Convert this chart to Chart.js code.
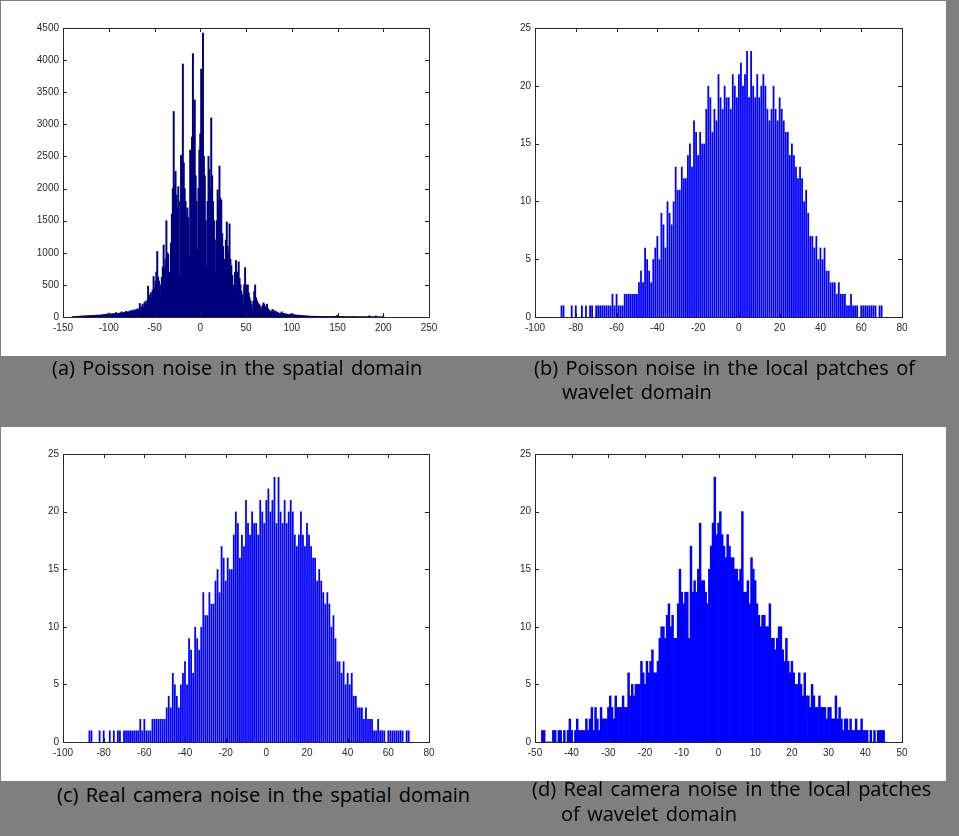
<!DOCTYPE html>
<html>
<head>
<meta charset="utf-8">
<script src="https://cdn.jsdelivr.net/npm/chart.js@4.4.1/dist/chart.umd.min.js"></script>
<style>
  html, body { margin: 0; padding: 0; }
  body { width: 959px; height: 836px; background: #7f7f7f; position: relative; overflow: hidden; }
  .panel { position: absolute; background: #fff; }
  canvas { position: absolute; }
  .cap { position: absolute; color: #000; font-family: 'Open Sans', sans-serif; font-size: 20px; line-height: 24px; white-space: nowrap; word-spacing: 2.2px; }
</style>
</head>
<body>
<div class="panel" style="left:1px;top:1px;width:945px;height:355px"></div>
<div class="panel" style="left:1px;top:427px;width:945px;height:354px"></div>

<canvas id="chartA" width="478" height="355" style="left:1px;top:1px"></canvas>
<canvas id="chartB" width="467" height="355" style="left:479px;top:1px"></canvas>
<canvas id="chartC" width="478" height="354" style="left:1px;top:427px"></canvas>
<canvas id="chartD" width="467" height="354" style="left:479px;top:427px"></canvas>

<div class="cap" style="left:52px;top:356px">(a) Poisson noise in the spatial domain</div>
<div class="cap" style="left:534px;top:356px">(b) Poisson noise in the local patches of</div>
<div class="cap" style="left:562px;top:380px">wavelet domain</div>
<div class="cap" style="left:57px;top:783px">(c) Real camera noise in the spatial domain</div>
<div class="cap" style="left:532px;top:777px">(d) Real camera noise in the local patches</div>
<div class="cap" style="left:561px;top:802px">of wavelet domain</div>

<script>
// (a) Poisson noise, spatial domain: one bin per integer, from -140 to 200
const binStartA = -140;
const binWidthA = 1;
const countsA = [
  0, 5, 0, 8, 10, 0, 12, 8, 10, 15,
  12, 10, 18, 15, 12, 20, 18, 15, 22, 20,
  18, 25, 22, 20, 28, 25, 22, 30, 28, 25,
  32, 28, 30, 35, 30, 38, 35, 40, 45, 38,
  60, 40, 45, 50, 42, 55, 48, 52, 70, 50,
  55, 60, 52, 65, 80, 60, 70, 65, 75, 90,
  70, 80, 75, 95, 85, 100, 90, 110, 100, 95,
  120, 100, 130, 115, 210, 140, 160, 200, 150, 220,
  240, 200, 260, 480, 300, 340, 380, 300, 420, 630,
  450, 560, 700, 1020, 620, 560, 500, 300, 620, 780,
  1120, 760, 900, 1500, 1000, 980, 700, 560, 1150, 1600,
  2000, 3200, 2050, 2270, 1900, 1700, 2030, 650, 1800, 2520,
  2200, 3940, 2400, 2000, 1800, 1600, 1700, 1550, 950, 2600,
  2400, 2800, 4100, 3000, 3380, 2200, 1800, 1050, 2000, 2600,
  2850, 3860, 2900, 4420, 2500, 2200, 1500, 800, 1800, 2500,
  2300, 2000, 3100, 2200, 1800, 1500, 1200, 700, 1500, 1980,
  1800, 2350, 1850, 1820, 1300, 1100, 900, 500, 1200, 1480,
  1100, 1000, 1450, 900, 800, 650, 500, 380, 700, 880,
  650, 700, 860, 600, 500, 400, 350, 200, 500, 770,
  500, 420, 500, 380, 300, 250, 200, 120, 250, 400,
  500, 300, 250, 220, 200, 180, 150, 110, 180, 220,
  200, 160, 150, 200, 130, 110, 100, 70, 90, 120,
  80, 100, 70, 85, 60, 70, 55, 50, 60, 80,
  55, 60, 45, 50, 40, 45, 38, 35, 40, 45,
  50, 35, 38, 30, 32, 28, 30, 25, 28, 22,
  25, 20, 22, 18, 20, 15, 18, 15, 12, 15,
  12, 10, 14, 10, 12, 8, 10, 12, 8, 10,
  8, 10, 6, 8, 10, 6, 8, 5, 8, 6,
  8, 5, 6, 8, 5, 6, 10, 5, 8, 20,
  25, 6, 5, 8, 4, 6, 5, 4, 6, 5,
  4, 5, 3, 6, 4, 3, 5, 4, 3, 8,
  4, 3, 5, 2, 4, 3, 2, 4, 3, 5,
  3, 2, 4, 3, 5, 20, 3, 2, 4, 2,
  3, 2, 15, 2, 3, 1, 2, 0, 0, 1,
  20
];
const xTicksA = [-150, -100, -50, 0, 50, 100, 150, 200, 250];
const yTicksA = [0, 500, 1000, 1500, 2000, 2500, 3000, 3500, 4000, 4500];

// (b) Poisson noise, local wavelet patches: integer bins from -87 to 70
const binStartB = -87;
const binWidthB = 1;
const countsB = [
  1, 1, 0, 0, 0, 1, 0, 1, 0, 0,
  1, 0, 1, 0, 1, 1, 0, 1, 1, 1,
  1, 1, 1, 1, 1, 2, 1, 2, 1, 1,
  1, 2, 2, 2, 2, 2, 2, 2, 3, 4,
  3, 6, 5, 4, 3, 5, 6, 7, 5, 9,
  8, 6, 10, 9, 8, 10, 13, 11, 11, 13,
  12, 12, 14, 15, 13, 17, 16, 14, 16, 15,
  15, 18, 20, 19, 16, 18, 17, 21, 19, 18,
  20, 19, 19, 18, 21, 20, 19, 21, 22, 20,
  21, 23, 19, 23, 20, 19, 21, 19, 20, 21,
  20, 18, 17, 18, 20, 18, 17, 19, 18, 17,
  16, 16, 14, 15, 14, 13, 12, 13, 12, 10,
  11, 9, 7, 7, 6, 7, 5, 6, 5, 6,
  4, 4, 3, 3, 3, 2, 3, 2, 2, 2,
  1, 1, 2, 1, 1, 1, 0, 1, 1, 1,
  1, 1, 1, 1, 1, 0, 1, 1
];
const xTicksB = [-100, -80, -60, -40, -20, 0, 20, 40, 60, 80];
const yTicks25 = [0, 5, 10, 15, 20, 25];

// (c) real camera noise, spatial domain: the reference shows the same histogram as (b)
const binStartC = -87;
const binWidthC = 1;
const countsC = countsB;
const xTicksC = [-100, -80, -60, -40, -20, 0, 20, 40, 60, 80];

// (d) real camera noise, local wavelet patches: half-unit bins from -48 to 45.5
const binStartD = -48;
const binWidthD = 0.5;
const countsD = [
  1, 1, 0, 0, 0, 0, 1, 1, 0, 1,
  1, 0, 1, 0, 1, 2, 1, 0, 1, 2,
  1, 1, 1, 1, 2, 1, 2, 3, 1, 3,
  2, 1, 3, 2, 2, 2, 3, 4, 3, 2,
  4, 3, 3, 3, 4, 3, 3, 6, 4, 5,
  4, 5, 5, 5, 7, 6, 5, 7, 6, 7,
  8, 6, 6, 7, 9, 10, 10, 9, 11, 12,
  10, 11, 9, 9, 12, 15, 13, 12, 13, 13,
  9, 17, 13, 14, 13, 15, 19, 14, 14, 13,
  12, 15, 17, 19, 23, 18, 19, 20, 18, 17,
  16, 18, 17, 16, 16, 15, 15, 14, 15, 20,
  13, 13, 14, 12, 16, 15, 14, 12, 11, 10,
  11, 11, 10, 10, 12, 9, 9, 8, 9, 10,
  10, 8, 7, 9, 7, 6, 7, 6, 5, 5,
  6, 5, 4, 6, 4, 4, 3, 5, 4, 3,
  3, 4, 3, 3, 3, 2, 3, 3, 2, 2,
  4, 2, 3, 2, 1, 2, 2, 1, 2, 1,
  1, 2, 1, 1, 2, 1, 1, 1, 0, 1,
  0, 1, 0, 1, 1, 1, 1, 0
];
const xTicksD = [-50, -40, -30, -20, -10, 0, 10, 20, 30, 40, 50];

const tickFont = { family: 'Liberation Sans', size: 10 };
const tickColor = '#2a2a2a';

// MATLAB style axes: closed box with short ticks pointing inwards on all sides
const matlabBox = {
  id: 'matlabBox',
  afterDraw(chart) {
    const { ctx, chartArea: a, scales: { x, y } } = chart;
    ctx.save();
    ctx.strokeStyle = '#262626';
    ctx.lineWidth = 1;
    ctx.strokeRect(a.left + 0.5, a.top + 0.5, a.right - a.left, a.bottom - a.top);
    ctx.beginPath();
    x.ticks.forEach(t => {
      const px = Math.round(x.getPixelForValue(t.value)) + 0.5;
      ctx.moveTo(px, a.bottom); ctx.lineTo(px, a.bottom - 4);
      ctx.moveTo(px, a.top); ctx.lineTo(px, a.top + 4);
    });
    y.ticks.forEach(t => {
      const py = Math.round(y.getPixelForValue(t.value)) + 0.5;
      ctx.moveTo(a.left, py); ctx.lineTo(a.left + 4, py);
      ctx.moveTo(a.right, py); ctx.lineTo(a.right - 4, py);
    });
    ctx.stroke();
    ctx.restore();
  }
};

function histChart(id, start, width, counts, color, xTicks, yTicks, box, bar) {
  const points = counts.map((c, i) => ({ x: start + i * width, y: c }));
  new Chart(document.getElementById(id), {
    type: 'bar',
    data: {
      datasets: [Object.assign({
        data: points,
        backgroundColor: color,
        borderWidth: 0,
        categoryPercentage: 1
      }, bar)]
    },
    options: {
      responsive: false,
      animation: false,
      layout: { padding: { left: 0, top: box.top, right: box.right, bottom: 0 } },
      plugins: { legend: { display: false }, tooltip: { enabled: false } },
      scales: {
        x: {
          type: 'linear',
          offset: false,
          min: xTicks[0],
          max: xTicks[xTicks.length - 1],
          afterBuildTicks: s => { s.ticks = xTicks.map(v => ({ value: v })); },
          afterFit: s => { s.height = box.xh; },
          grid: { display: false, drawTicks: false },
          border: { display: false },
          ticks: { font: tickFont, color: tickColor, padding: 5, maxRotation: 0, autoSkip: false,
                   callback: v => String(v) }
        },
        y: {
          min: yTicks[0],
          max: yTicks[yTicks.length - 1],
          afterBuildTicks: s => { s.ticks = yTicks.map(v => ({ value: v })); },
          afterFit: s => { s.width = box.yw; },
          grid: { display: false, drawTicks: false },
          border: { display: false },
          ticks: { font: tickFont, color: tickColor, padding: 4, callback: v => String(v) }
        }
      }
    },
    plugins: [matlabBox]
  });
}

histChart('chartA', binStartA, binWidthA, countsA, '#00007f', xTicksA, yTicksA,
  { top: 27, right: 50, xh: 39, yw: 62 }, { barThickness: 1.3 });
histChart('chartB', binStartB, binWidthB, countsB, '#0000ff', xTicksB, yTicks25,
  { top: 27, right: 44, xh: 39, yw: 56 }, { barPercentage: 0.88 });
histChart('chartC', binStartC, binWidthC, countsC, '#0000ff', xTicksC, yTicks25,
  { top: 27, right: 50, xh: 39, yw: 62 }, { barPercentage: 0.88 });
histChart('chartD', binStartD, binWidthD, countsD, '#0000ff', xTicksD, yTicks25,
  { top: 27, right: 44, xh: 39, yw: 56 }, { barPercentage: 1 });
</script>
</body>
</html>
